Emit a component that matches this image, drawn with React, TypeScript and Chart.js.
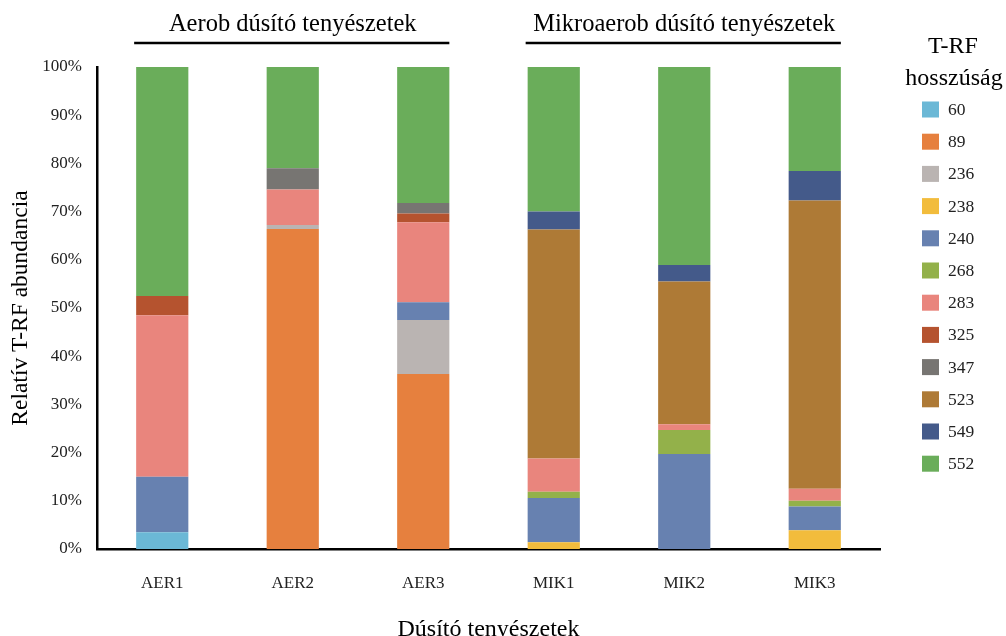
import React, { useEffect, useRef } from "react";
import { Chart, registerables } from "chart.js";

Chart.register(...registerables);

const categories = ["AER1", "AER2", "AER3", "MIK1", "MIK2", "MIK3"];
const yTicks = [0, 10, 20, 30, 40, 50, 60, 70, 80, 90, 100];
const groupLabels = ["Aerob dúsító tenyészetek", "Mikroaerob dúsító tenyészetek"];
const groupRanges = [[0, 2], [3, 5]];
const legendTitle = ["T-RF", "hosszúság"];
const yTitle = "Relatív T-RF abundancia";
const xTitle = "Dúsító tenyészetek";

const seriesNames = ["60", "89", "236", "238", "240", "268", "283", "325", "347", "523", "549", "552"];
const seriesColors = [
  "#6BB8D6", "#E6803E", "#BAB4B2", "#F2BC3C", "#6781B0", "#93B14A",
  "#E9857D", "#B5532F", "#777572", "#AE7A36", "#445A8A", "#6AAD5A",
];

const v60 = [3.5, 0, 0, 0, 0, 0];
const v89 = [0, 66.4, 36.3, 0, 0, 0];
const v236 = [0, 0.8, 11.2, 0, 0, 0];
const v238 = [0, 0, 0, 1.4, 0, 3.9];
const v240 = [11.5, 0, 3.7, 9.2, 19.7, 4.9];
const v268 = [0, 0, 0, 1.3, 5.0, 1.2];
const v283 = [33.5, 7.4, 16.6, 6.9, 1.2, 2.5];
const v325 = [4.0, 0, 1.8, 0, 0, 0];
const v347 = [0, 4.4, 2.2, 0, 0, 0];
const v523 = [0, 0, 0, 47.5, 29.6, 59.8];
const v549 = [0, 0, 0, 3.7, 3.4, 6.1];
const v552 = [47.5, 21.0, 28.2, 30.0, 41.1, 21.6];

const seriesValues = [v60, v89, v236, v238, v240, v268, v283, v325, v347, v523, v549, v552];

const SERIF = "'Liberation Serif', 'DejaVu Serif', serif";

const overlayPlugin = {
  id: "overlay",
  afterDraw(chart: any) {
    const ctx = chart.ctx;
    ctx.save();
    // group labels with underline
    const meta = chart.getDatasetMeta(0);
    groupRanges.forEach((r, gi) => {
      const a = meta.data[r[0]];
      const b = meta.data[r[1]];
      const left = a.x - a.width / 2 - 2;
      const right = b.x + b.width / 2;
      const mid = meta.data[Math.round((r[0] + r[1]) / 2)].x;
      ctx.fillStyle = "#000";
      ctx.font = `24.5px ${SERIF}`;
      ctx.textAlign = "center";
      ctx.textBaseline = "alphabetic";
      ctx.fillText(groupLabels[gi], mid, 31);
      ctx.strokeStyle = "#000";
      ctx.lineWidth = 2.5;
      ctx.beginPath();
      ctx.moveTo(left, 43);
      ctx.lineTo(right, 43);
      ctx.stroke();
    });
    // legend
    ctx.font = `24px ${SERIF}`;
    ctx.textAlign = "center";
    ctx.textBaseline = "alphabetic";
    ctx.fillStyle = "#000";
    ctx.fillText(legendTitle[0], 953, 53);
    ctx.fillText(legendTitle[1], 954, 85);
    ctx.font = `17.5px ${SERIF}`;
    ctx.textAlign = "left";
    ctx.textBaseline = "middle";
    chart.data.datasets.forEach((ds: any, i: number) => {
      const cy = 109.5 + i * 32.2;
      ctx.fillStyle = ds.backgroundColor;
      ctx.fillRect(922, cy - 8, 17, 16);
      ctx.fillStyle = "#222";
      ctx.fillText(ds.label, 948, cy + 1);
    });
    ctx.restore();
  },
};

export default function App() {
  const ref = useRef<HTMLCanvasElement>(null);
  useEffect(() => {
    if (!ref.current) return;
    const chart = new Chart(ref.current, {
      type: "bar",
      data: {
        labels: categories,
        datasets: seriesNames.map((n, i) => ({
          label: n,
          data: seriesValues[i],
          backgroundColor: seriesColors[i],
          borderWidth: 0,
          barPercentage: 0.8,
          categoryPercentage: 0.5,
        })),
      },
      options: {
        responsive: false,
        animation: false,
        layout: { padding: { left: 0, right: 126, top: 67, bottom: 0 } },
        plugins: {
          legend: { display: false },
          tooltip: { enabled: false },
        },
        scales: {
          x: {
            stacked: true,
            grid: { display: false, drawTicks: false },
            border: { display: true, color: "#000", width: 2.5 },
            ticks: { color: "#222", font: { family: SERIF, size: 17 }, padding: 24 },
            title: {
              display: true,
              text: xTitle,
              color: "#000",
              font: { family: SERIF, size: 24, lineHeight: 0.5 },
              padding: { top: 0, bottom: 0 },
            },
            afterFit: (s: any) => { s.height = 87; },
          },
          y: {
            stacked: true,
            min: 0,
            max: 100,
            afterBuildTicks: (s: any) => { s.ticks = yTicks.map((v) => ({ value: v })); },
            grid: { display: false, drawTicks: false },
            border: { display: true, color: "#000", width: 2.5 },
            ticks: {
              color: "#222",
              font: { family: SERIF, size: 17 },
              padding: 15,
              callback: (v: any) => `${v}%`,
            },
            title: {
              display: true,
              text: yTitle,
              color: "#000",
              font: { family: SERIF, size: 23.5, lineHeight: 1 },
              padding: { top: 9, bottom: 0 },
            },
            afterFit: (s: any) => { s.width = 97; },
          },
        },
      },
      plugins: [overlayPlugin],
    });
    return () => chart.destroy();
  }, []);
  return (
    <div style={{ position: "fixed", left: 0, top: 0, width: 1006, height: 636, background: "#fff" }}>
      <canvas ref={ref} width={1006} height={636} style={{ width: 1006, height: 636 }} />
    </div>
  );
}
